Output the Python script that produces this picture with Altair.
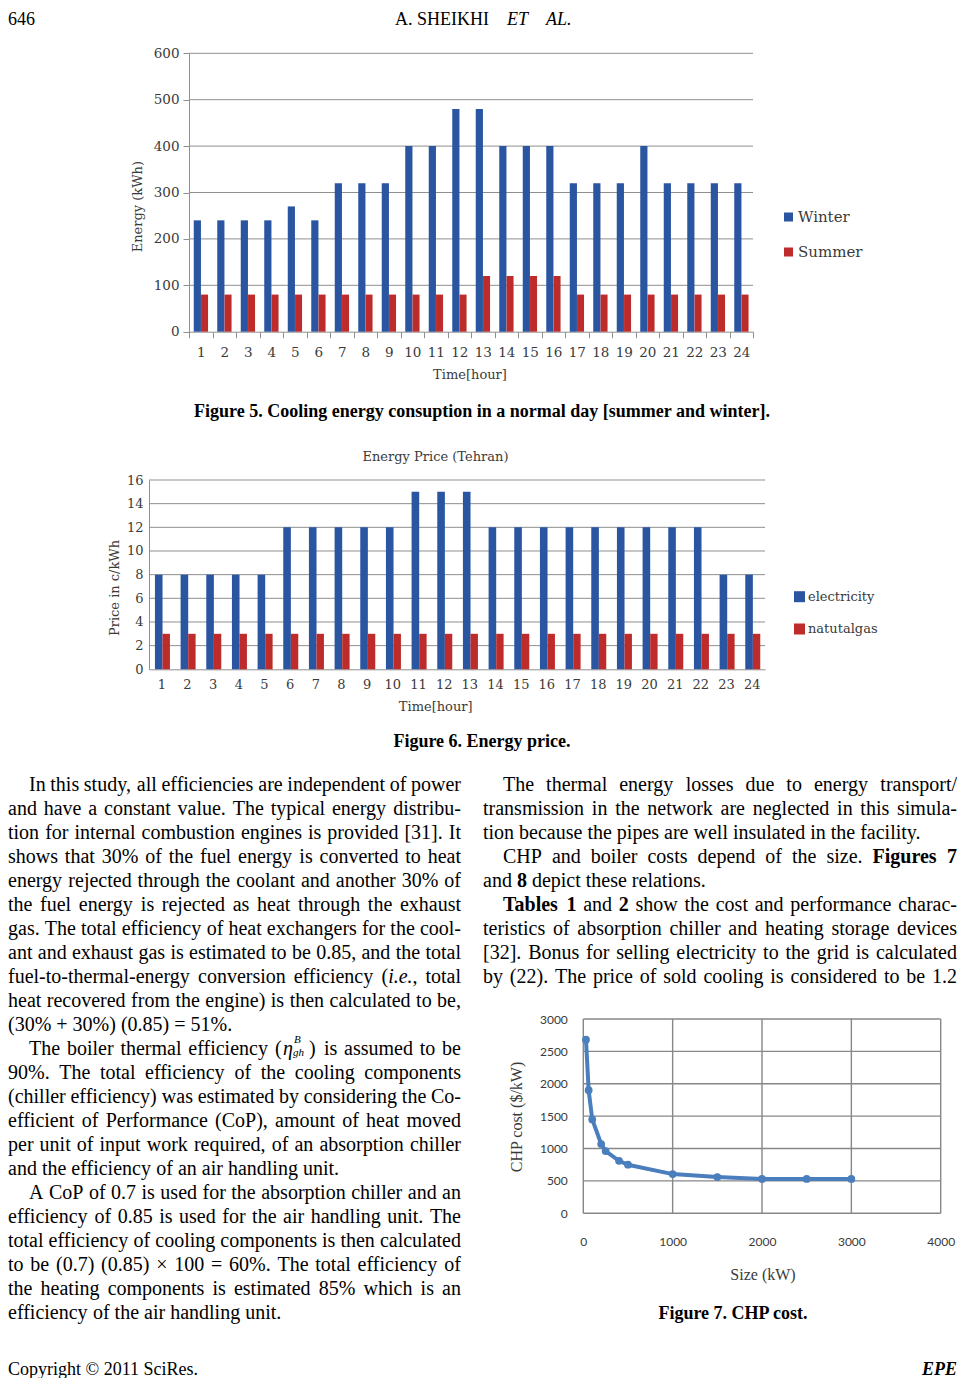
import altair as alt
import pandas as pd

W, H = 949, 1370

# ---------------- data ----------------
hours = list(range(1, 25))
winter_kwh = [240, 240, 240, 240, 270, 240, 320, 320, 320, 400, 400, 480,
              480, 400, 400, 400, 320, 320, 320, 400, 320, 320, 320, 320]
summer_kwh = [80, 80, 80, 80, 80, 80, 80, 80, 80, 80, 80, 80,
              120, 120, 120, 120, 80, 80, 80, 80, 80, 80, 80, 80]
energy_ticks = [0, 100, 200, 300, 400, 500, 600]
series5 = ["Winter", "Summer"]

electricity_price = [8, 8, 8, 8, 8, 12, 12, 12, 12, 12, 15, 15,
                     15, 12, 12, 12, 12, 12, 12, 12, 12, 12, 8, 8]
natgas_price = [3, 3, 3, 3, 3, 3, 3, 3, 3, 3, 3, 3,
                3, 3, 3, 3, 3, 3, 3, 3, 3, 3, 3, 3]
price_ticks = [0, 2, 4, 6, 8, 10, 12, 14, 16]
series6 = ["electricity", "natutalgas"]

chp_size_kw = [30, 60, 100, 200, 250, 400, 500, 1000, 1500, 2000, 2500, 3000]
chp_cost = [2680, 1900, 1450, 1070, 960, 810, 750, 605, 560, 530, 530, 530]
size_ticks = [0, 1000, 2000, 3000, 4000]
cost_ticks = [0, 500, 1000, 1500, 2000, 2500, 3000]

left_paragraphs = [
    ["In this study, all efficiencies are independent of power",
     "and have a constant value. The typical energy distribu-",
     "tion for internal combustion engines is provided [31]. It",
     "shows that 30% of the fuel energy is converted to heat",
     "energy rejected through the coolant and another 30% of",
     "the fuel energy is rejected as heat through the exhaust",
     "gas. The total efficiency of heat exchangers for the cool-",
     "ant and exhaust gas is estimated to be 0.85, and the total",
     "fuel-to-thermal-energy conversion efficiency (_i.e._, total",
     "heat recovered from the engine) is then calculated to be,",
     "(30% + 30%) (0.85) = 51%."],
    ["The boiler thermal efficiency @ETA@ is assumed to be",
     "90%. The total efficiency of the cooling components",
     "(chiller efficiency) was estimated by considering the Co-",
     "efficient of Performance (CoP), amount of heat moved",
     "per unit of input work required, of an absorption chiller",
     "and the efficiency of an air handling unit."],
    ["A CoP of 0.7 is used for the absorption chiller and an",
     "efficiency of 0.85 is used for the air handling unit. The",
     "total efficiency of cooling components is then calculated",
     "to be (0.7) (0.85) \u00d7 100 = 60%. The total efficiency of",
     "the heating components is estimated 85% which is an",
     "efficiency of the air handling unit."],
]
right_paragraphs = [
    ["The thermal energy losses due to energy transport/",
     "transmission in the network are neglected in this simula-",
     "tion because the pipes are well insulated in the facility."],
    ["CHP and boiler costs depend of the size. *Figures* *7*",
     "and *8* depict these relations."],
    ["*Tables* *1* and *2* show the cost and performance charac-",
     "teristics of absorption chiller and heating storage devices",
     "[32]. Bonus for selling electricity to the grid is calculated",
     "by (22). The price of sold cooling is considered to be 1.2"],
]

# ---------------- styles ----------------
BLUE = "#2A55A0"
RED = "#BE2B2B"
GRID = "#8f8f8f"
LAB = "#3a3a3a"
LINE7 = "#4A7EBD"
SERIF = "Liberation Serif"
CSERIF = "DejaVu Serif"


def bar_layer(hrs, vals, scale_x, ax_x, scale_y, ax_y, color, width, shift):
    df = pd.DataFrame({"hour": hrs, "value": vals})
    return alt.Chart(df).mark_bar(width=width, xOffset=shift, color=color).encode(
        x=alt.X("hour:O", scale=scale_x, axis=ax_x),
        y=alt.Y("value:Q", scale=scale_y, axis=ax_y))


# ---------------- Figure 5 ----------------
f5x0, f5x1, f5y0, f5y1 = 181, 745, 323.7, 45.3
x5 = alt.Scale(type="band", range=[f5x0, f5x1], paddingInner=0, paddingOuter=0)
y5 = alt.Scale(domain=[0, 600], range=[f5y0, f5y1], nice=False)
ax5y = alt.Axis(orient="left", offset=-f5x0, values=energy_ticks, title=None, grid=False,
                domainColor=GRID, tickColor=GRID, tickSize=6, labelPadding=4,
                labelFont=CSERIF, labelFontSize=13.5, labelColor=LAB)
ax5x = alt.Axis(orient="bottom", offset=f5y0 - H, title=None, grid=False, labelAngle=0,
                tickBand="extent", domainColor=GRID, tickColor=GRID, tickSize=6,
                labelPadding=8, labelFont=CSERIF, labelFontSize=13.5, labelColor=LAB)
grid5 = alt.Chart(pd.DataFrame({"v": energy_ticks[1:]})).mark_rule(
    color=GRID, strokeWidth=1).encode(
    y=alt.Y("v:Q", scale=y5, axis=ax5y), x=alt.value(f5x0), x2=alt.value(f5x1))
fig5 = alt.layer(
    grid5,
    bar_layer(hours, winter_kwh, x5, ax5x, y5, ax5y, BLUE, 7.2, -3.4),
    bar_layer(hours, summer_kwh, x5, ax5x, y5, ax5y, RED, 7.0, 3.8),
)

# ---------------- Figure 6 ----------------
f6x0, f6x1, f6y0, f6y1 = 141, 757, 661.3, 472
x6 = alt.Scale(type="band", range=[f6x0, f6x1], paddingInner=0, paddingOuter=0)
y6 = alt.Scale(domain=[0, 16], range=[f6y0, f6y1], nice=False)
ax6y = alt.Axis(orient="left", offset=-f6x0, values=price_ticks, title=None, grid=False,
                domainColor=GRID, ticks=False, tickSize=0, labelPadding=6,
                labelFont=CSERIF, labelFontSize=13, labelColor=LAB)
ax6x = alt.Axis(orient="bottom", offset=f6y0 - H, title=None, grid=False, labelAngle=0,
                domainColor=GRID, ticks=False, tickSize=0, labelPadding=9,
                labelFont=CSERIF, labelFontSize=13, labelColor=LAB)
grid6 = alt.Chart(pd.DataFrame({"v": price_ticks[1:]})).mark_rule(
    color=GRID, strokeWidth=1).encode(
    y=alt.Y("v:Q", scale=y6, axis=ax6y), x=alt.value(f6x0), x2=alt.value(f6x1))
fig6 = alt.layer(
    grid6,
    bar_layer(hours, electricity_price, x6, ax6x, y6, ax6y, BLUE, 7.6, -3.1),
    bar_layer(hours, natgas_price, x6, ax6x, y6, ax6y, RED, 7.4, 4.4),
)

# ---------------- Figure 7 ----------------
f7x0, f7x1, f7y0, f7y1 = 575.3, 932.7, 1205.3, 1011
x7 = alt.Scale(domain=[0, 4000], range=[f7x0, f7x1], nice=False)
y7 = alt.Scale(domain=[0, 3000], range=[f7y0, f7y1], nice=False)
ax7x = alt.Axis(orient="bottom", offset=f7y0 - H, values=size_ticks, title=None, grid=False,
                domain=False, ticks=False, tickSize=0, labelPadding=23, labelFlush=False,
                labelOverlap=False, format="d", labelFont="Lato", labelFontSize=12,
                labelColor=LAB)
ax7y = alt.Axis(orient="left", offset=-f7x0, values=cost_ticks, title=None, grid=False,
                domain=False, ticks=False, tickSize=0, labelPadding=16, format="d",
                labelOverlap=False, labelFont="Lato", labelFontSize=12, labelColor=LAB)
grid7h = alt.Chart(pd.DataFrame({"v": cost_ticks})).mark_rule(
    color="#878787", strokeWidth=1.4).encode(
    y=alt.Y("v:Q", scale=y7, axis=ax7y), x=alt.value(f7x0), x2=alt.value(f7x1))
grid7v = alt.Chart(pd.DataFrame({"v": size_ticks})).mark_rule(
    color="#878787", strokeWidth=1.4).encode(
    x=alt.X("v:Q", scale=x7, axis=ax7x), y=alt.value(f7y1), y2=alt.value(f7y0))
line7 = alt.Chart(pd.DataFrame({"size": chp_size_kw, "cost": chp_cost})).mark_line(
    color=LINE7, strokeWidth=4,
    point=alt.OverlayMarkDef(filled=True, size=60, color=LINE7)).encode(
    x=alt.X("size:Q", scale=x7, axis=ax7x), y=alt.Y("cost:Q", scale=y7, axis=ax7y))
fig7 = alt.layer(grid7h, grid7v, line7)

# ---------------- text layout ----------------
TR = dict(zip("ABCDEFGHIJKLMNOPQRSTUVWXYZ",
              [722, 667, 667, 722, 611, 556, 722, 722, 333, 389, 722, 611, 889,
               722, 722, 556, 722, 667, 556, 611, 722, 722, 944, 722, 722, 611]))
TR.update(zip("abcdefghijklmnopqrstuvwxyz",
              [444, 500, 444, 500, 444, 333, 500, 500, 278, 278, 500, 278, 778,
               500, 500, 500, 500, 333, 389, 278, 500, 500, 722, 500, 500, 444]))
TR.update({c: 500 for c in "0123456789"})
TR.update({" ": 250, ",": 250, ".": 250, "(": 333, ")": 333, "%": 833, "+": 564,
           "=": 564, "/": 278, "[": 333, "]": 333, "-": 333, "\u00d7": 564, ":": 278})
TB = dict(zip("ABCDEFGHIJKLMNOPQRSTUVWXYZ",
              [722, 667, 722, 722, 667, 611, 778, 778, 389, 500, 778, 667, 944,
               722, 778, 611, 778, 722, 556, 667, 722, 722, 1000, 722, 722, 667]))
TB.update(zip("abcdefghijklmnopqrstuvwxyz",
              [500, 556, 444, 556, 444, 333, 500, 556, 278, 333, 556, 278, 833,
               556, 500, 556, 556, 444, 389, 333, 556, 500, 722, 500, 500, 444]))
TB.update({c: 500 for c in "0123456789"})
TB.update({" ": 250, ".": 250, ",": 250})
TI = dict(zip("abcdefghijklmnopqrstuvwxyz",
              [500, 500, 444, 500, 444, 278, 500, 500, 278, 278, 444, 278, 722,
               500, 500, 500, 500, 389, 389, 278, 500, 444, 667, 444, 444, 389]))
TI.update({".": 250, ",": 250})
TABLES = {"r": TR, "b": TB, "i": TI}
FS = 20
LH = 24
ETA_W = 42


def parse_word(w):
    segs, cur, style = [], "", "r"
    for ch in w:
        if ch in "*_":
            if cur:
                segs.append((cur, style))
                cur = ""
            tgt = "b" if ch == "*" else "i"
            style = "r" if style == tgt else tgt
        else:
            cur += ch
    if cur:
        segs.append((cur, style))
    return segs


def seg_w(text, style):
    tab = TABLES[style]
    return sum(tab.get(c, 500) for c in text) * FS / 1000.0


rows = []


def word_width(w):
    if w == "@ETA@":
        return ETA_W
    return sum(seg_w(t, s) for t, s in parse_word(w))


def emit(w, x, y):
    if w == "@ETA@":
        rows.append((x, y, "(", "r"))
        rows.append((x + 8, y, "\u03b7", "i"))
        rows.append((x + 19, y - 9, "B", "s"))
        rows.append((x + 18, y + 4, "gh", "s"))
        rows.append((x + 34, y, ")", "r"))
        return
    for t, s in parse_word(w):
        rows.append((x, y, t, s))
        x += seg_w(t, s)


def layout(paragraphs, x0, x1, y0, indent, last_justified=False):
    y = y0
    for p, lines in enumerate(paragraphs):
        for k, line in enumerate(lines):
            words = line.split()
            left = x0 + (indent if k == 0 else 0)
            widths = [word_width(w) for w in words]
            last = k == len(lines) - 1
            just = (not last) or (last_justified and p == len(paragraphs) - 1)
            if just and len(words) > 1:
                gap = (x1 - left - sum(widths)) / (len(words) - 1)
            else:
                gap = 0.25 * FS
            x = left
            for w, wd in zip(words, widths):
                emit(w, x, y)
                x += wd + gap
            y += LH


layout(left_paragraphs, 0, 453, 777, 21)
layout(right_paragraphs, 475, 949, 777, 20, last_justified=True)
body = pd.DataFrame(rows, columns=["x", "y", "t", "style"])


def txt(df, **kw):
    return alt.Chart(df).mark_text(**kw).encode(
        x=alt.X("x:Q", scale=None, axis=None),
        y=alt.Y("y:Q", scale=None, axis=None),
        text=alt.Text("t:N"))


def tdf(items):
    return pd.DataFrame(items, columns=["x", "y", "t"])


body_layers = [
    txt(body[body["style"] == "r"], font=SERIF, fontSize=FS, align="left", color="#000"),
    txt(body[body["style"] == "b"], font=SERIF, fontSize=FS, fontWeight="bold", align="left",
        color="#000"),
    txt(body[body["style"] == "i"], font=SERIF, fontSize=FS, fontStyle="italic", align="left",
        color="#000"),
    txt(body[body["style"] == "s"], font=SERIF, fontSize=11, fontStyle="italic", align="left",
        color="#000"),
]

header = [
    txt(tdf([(0, 12, "646"), (387, 12, "A. SHEIKHI")]), font=SERIF, fontSize=18,
        align="left", color="#000"),
    txt(tdf([(499, 12, "ET"), (538, 12, "AL.")]), font=SERIF, fontSize=18,
        fontStyle="italic", align="left", color="#000"),
    txt(tdf([(0, 1362, "Copyright \u00a9 2011 SciRes.")]), font=SERIF, fontSize=18,
        align="left", color="#000"),
    txt(tdf([(949, 1362, "EPE")]), font=SERIF, fontSize=18, fontStyle="italic",
        fontWeight="bold", align="right", color="#000"),
]

captions = txt(tdf([
    (474, 404, "Figure 5. Cooling energy consuption in a normal day [summer and winter]."),
    (474, 734, "Figure 6. Energy price."),
    (725, 1306, "Figure 7. CHP cost."),
]), font=SERIF, fontSize=18, fontWeight="bold", align="center", color="#000")

chart_labels = [
    txt(tdf([(462, 367, "Time[hour]"), (427.7, 698.7, "Time[hour]"),
             (427.5, 448.7, "Energy Price (Tehran)")]),
        font=CSERIF, fontSize=13, align="center", baseline="middle", color=LAB),
    txt(tdf([(130, 198.7, "Energy (kWh)"), (107, 580, "Price in c/kWh")]),
        font=CSERIF, fontSize=13, align="center", baseline="middle", angle=270, color=LAB),
    txt(tdf([(790, 209, series5[0]), (790, 244, series5[1])]),
        font=CSERIF, fontSize=15, align="left", baseline="middle", color=LAB),
    txt(tdf([(800, 588.7, series6[0]), (800, 621, series6[1])]),
        font=CSERIF, fontSize=13, align="left", baseline="middle", color=LAB),
    txt(tdf([(755, 1267, "Size (kW)")]),
        font=SERIF, fontSize=16, align="center", baseline="middle", color=LAB),
    txt(tdf([(509, 1109, "CHP cost ($/kW)")]),
        font=SERIF, fontSize=16, align="center", baseline="middle", angle=270, color=LAB),
]

legend_sq = alt.Chart(pd.DataFrame({
    "x": [780.5, 780.5, 791.5, 791.5], "y": [209, 244, 588.7, 621],
    "c": [BLUE, RED, BLUE, RED], "s": [81, 81, 121, 121]})).mark_square(opacity=1).encode(
    x=alt.X("x:Q", scale=None, axis=None), y=alt.Y("y:Q", scale=None, axis=None),
    color=alt.Color("c:N", scale=None), size=alt.Size("s:Q", scale=None))

chart = alt.layer(
    fig5, fig6, fig7, legend_sq, captions, *chart_labels, *header, *body_layers
).resolve_scale(
    x="independent", y="independent", color="independent", size="independent"
).properties(
    width=W, height=H, padding=0, autosize=alt.AutoSizeParams(type="none")
).configure(background="white").configure_view(stroke=None)

chart.save("out.html", embed_options={"renderer": "svg", "actions": False})
